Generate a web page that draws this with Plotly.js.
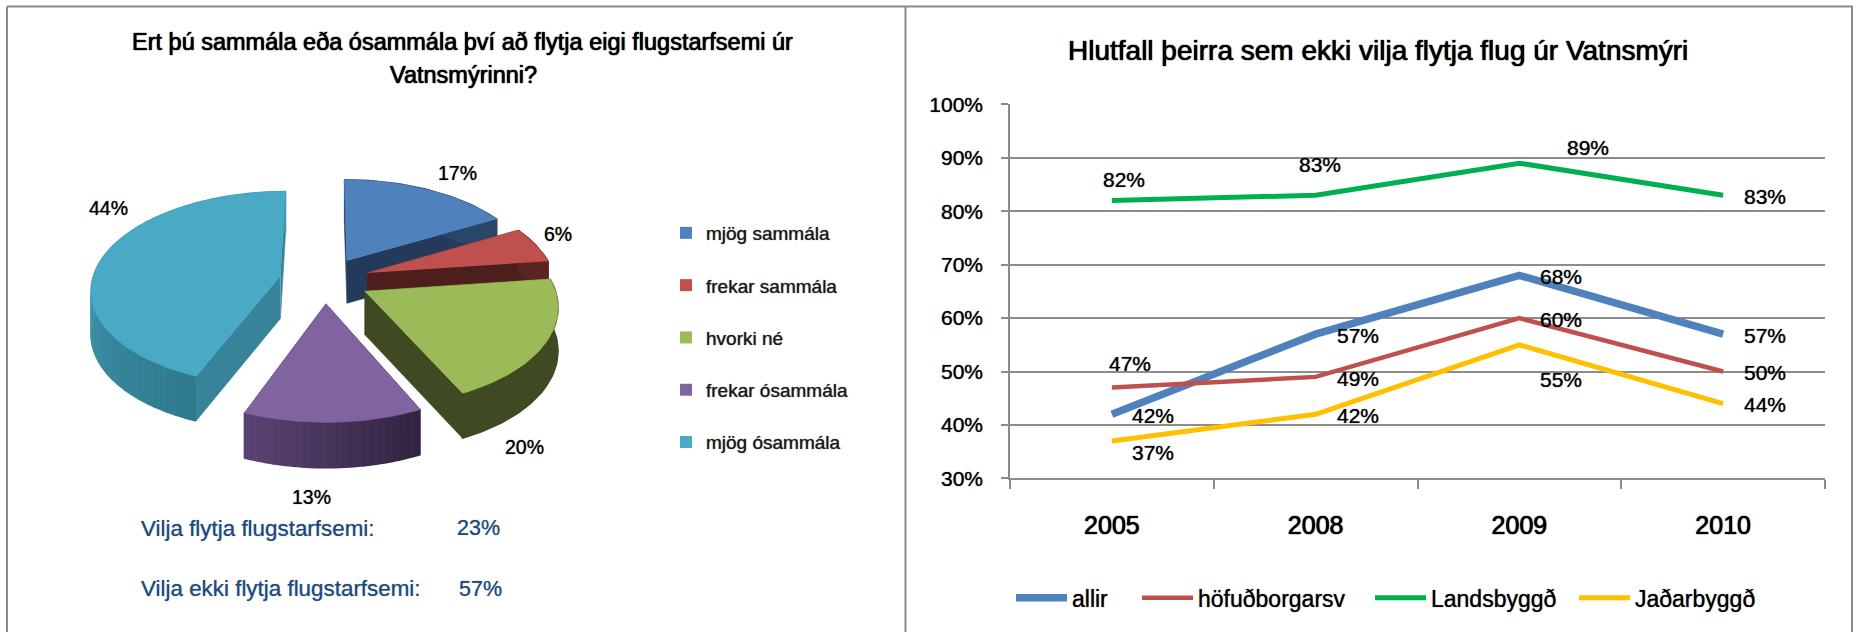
<!DOCTYPE html>
<html><head><meta charset="utf-8">
<script src="https://cdn.plot.ly/plotly-3.0.1.min.js"></script>
<style>html,body{margin:0;padding:0;background:#fff}#c{width:1853px;height:632px}</style>
</head><body><div id="c"></div>
<script>
// ---- data: left chart
const sliceNames = ['mjög sammála','frekar sammála','hvorki né','frekar ósammála','mjög ósammála'];
const sliceValues = [17,6,20,13,44];
const summaryLabels = ['Vilja flytja flugstarfsemi:','Vilja ekki flytja flugstarfsemi:'];
const summaryValues = [23,57];
// ---- data: right chart
const years = ['2005','2008','2009','2010'];
const allir = [42,57,68,57];
const hofudborgarsv = [47,49,60,50];
const landsbyggd = [82,83,89,83];
const jadarbyggd = [37,42,55,44];
const lineNames = ['allir','höfuðborgarsv','Landsbyggð','Jaðarbyggð'];
const pieTitle = ['Ert þú sammála eða ósammála því að flytja eigi flugstarfsemi úr','Vatnsmýrinni?'];
const lineTitle = 'Hlutfall þeirra sem ekki vilja flytja flug úr Vatnsmýri';

// ---- styles
const W = 1853, H = 632;
const FONT = '"Liberation Sans", Arial, sans-serif';
const SOFT = '0 0 1px rgba(0,0,0,0.8)';
const STRONG = '0 0 1px #000, 0 0 1px #000';
const topColors = ['#4F81BD','#C0504D','#9BBB59','#8064A2','#4AA9C4'];
const cutColors = ['#233A5C','#4E1E1C','#3F4A22','#3C2C52','#37849A'];
const wallStart = ['#2A4669','#5A2422','#3F4A22','#31233F','#30798D'];
const wallEnd   = ['#2A4669','#5A2422','#3F4A22','#5B4474','#3F99B1'];
const wallSteps = [2,2,2,24,48];
const wallSpan  = [1,1,1,1,0.5];
const drawOrder = [0,1,4,2,3];
const lineColors = ['#4F81BD','#C0504D','#00B050','#FFC000'];
const lineWidths = [7.5,4.5,5,5];

// pseudo-3D projection of the exploded pie (pixel-scaled hidden axes)
const cx = 324.5, cy = 280, rx = 188, ry = 96.2, persp = 0.131, depth = 43, explode = 0.24;
function project(X, Y, z){ const w = 1 - persp*Y; return [cx + rx*X/w, cy + ry*Y/w + z*depth*Math.pow(w,-0.3)]; }
function hex2rgb(h){ return [1,3,5].map(i=>parseInt(h.substr(i,2),16)); }
function mix(a,b,t){ const A=hex2rgb(a),B=hex2rgb(b); t=Math.min(1,t); return 'rgb('+A.map((v,i)=>Math.round(v+(B[i]-v)*t)).join(',')+')'; }

const traces = [];
function poly(pts,color,lw){
  traces.push({type:'scatter',mode:'lines',x:pts.map(p=>p[0]),y:pts.map(p=>p[1]),fill:'toself',fillcolor:color,
    line:{color:color,width:lw||0.6},hoverinfo:'skip',showlegend:false,xaxis:'x',yaxis:'y'});
}
const total = sliceValues.reduce((a,b)=>a+b,0);
const starts = []; sliceValues.reduce((acc,v,i)=>{starts[i]=acc;return acc+v;},0);
const toRad = v => v/total*2*Math.PI;
drawOrder.forEach(i=>{
  const a0 = toRad(starts[i]), a1 = toRad(starts[i]+sliceValues[i]), mid=(a0+a1)/2;
  const ox = explode*Math.sin(mid), oy = -explode*Math.cos(mid);
  const pt = (t,r,z)=>project(ox+r*Math.sin(t), oy-r*Math.cos(t), z);
  const arc = (from,to,z)=>{const n=Math.max(4,Math.ceil(Math.abs(to-from)/0.03)),o=[];for(let j=0;j<=n;j++)o.push(pt(from+(to-from)*j/n,1,z));return o;};
  // cut faces
  [a0,a1].forEach(t=>poly([pt(t,0,0),pt(t,1,0),pt(t,1,1),pt(t,0,1)],cutColors[i]));
  // curved outer wall, shaded in strips
  const steps = wallSteps[i];
  for(let s=0;s<steps;s++){
    const f=a0+(a1-a0)*s/steps, g=a0+(a1-a0)*(s+1)/steps;
    poly(arc(f,g,0).concat(arc(g,f,1)), mix(wallStart[i],wallEnd[i],(s+0.5)/steps/wallSpan[i]),1.5);
  }
  // top
  poly([pt(a0,0,0)].concat(arc(a0,a1,0)),topColors[i]);
});
// legend entries of the pie
sliceNames.forEach((n,i)=>traces.push({type:'scatter',mode:'markers',x:[null],y:[null],name:n,legendgroup:'g'+i,legend:'legend',
  marker:{symbol:'square',size:12,color:topColors[i]},xaxis:'x',yaxis:'y'}));

// line chart
const lineSeries=[allir,hofudborgarsv,landsbyggd,jadarbyggd];
lineSeries.forEach((vals,i)=>traces.push({type:'scatter',mode:'lines',x:years,y:vals,name:lineNames[i],
  line:{color:lineColors[i],width:lineWidths[i]},xaxis:'x2',yaxis:'y2',legend:'legend'+(i+2),hoverinfo:'skip'}));

// ---- annotations
const annotations=[];
function txt(x,y,text,size,color,xr,yr,dx,dy,anchor,shadow){annotations.push({xref:xr||'paper',yref:yr||'paper',x:x,y:y,text:text,showarrow:false,
  xanchor:anchor||'center',yanchor:'middle',xshift:dx||0,yshift:dy||0,font:{family:FONT,size:size,color:color||'#000',shadow:shadow||(color?'0 0 1px rgba(31,73,125,0.7)':SOFT)}});}
const px=x=>x/W, py=y=>1-y/H;
txt(px(462.5),py(41.5),pieTitle[0],23.5,null,null,null,0,0,null,STRONG);
txt(px(463.5),py(74.6),pieTitle[1],23.5,null,null,null,0,0,null,STRONG);
txt(px(1378),py(50.4),lineTitle,28,null,null,null,0,0,null,STRONG);
const pieLabelPos=[[457.7,173.3],[557.5,233.8],[524,446.6],[311,497],[108.6,207.6]];
sliceValues.forEach((v,i)=>txt(pieLabelPos[i][0],pieLabelPos[i][1],v+'%',19.5,null,'x','y'));
const navy='#1F497D';
txt(px(139),py(528),summaryLabels[0],22.4,navy,null,null,0,0,'left');
txt(px(478.5),py(528),summaryValues[0]+'%',21.5,navy);
txt(px(139),py(588.5),summaryLabels[1],22.4,navy,null,null,0,0,'left');
txt(px(480.5),py(588.5),summaryValues[1]+'%',21.5,navy);
// data labels, hand placed offsets as in the source chart
const labelDX=[[41.4,42.4,41.4,42.3],[17.7,42.4,41.4,42.3],[12.2,4.6,68.8,42.3],[41.4,42.4,41.4,42.3]];
const labelDY=[[-0.9,-1.7,-1.1,-1.7],[23.6,-2,-1.5,-1.3],[21.2,31.2,15.7,-1.5],[-11.2,-0.9,-34.9,-0.7]];
lineSeries.forEach((vals,s)=>vals.forEach((v,i)=>txt(i,v,v+'%',21,null,'x2','y2',labelDX[s][i],labelDY[s][i])));

// ---- frame
const grey='#8C8C8C';
const frameLine=(x0,y0,x1,y1)=>({type:'line',xref:'paper',yref:'paper',x0:px(x0),y0:py(y0),x1:px(x1),y1:py(y1),line:{color:grey,width:2}});
const shapes=[frameLine(7,6.5,1853,6.5),frameLine(7,6.5,7,632),frameLine(905.5,6.5,905.5,632),frameLine(1852,6.5,1852,632)];

// ---- legends for the line series
const legendX=[1011,1137,1370,1574];
const layout={
  width:W,height:H,margin:{l:0,r:0,t:0,b:0},paper_bgcolor:'#fff',plot_bgcolor:'rgba(0,0,0,0)',
  font:{family:FONT,color:'#000'},showlegend:true,annotations:annotations,shapes:shapes,
  xaxis:{domain:[0,905/W],range:[0,905],visible:false,fixedrange:true},
  yaxis:{domain:[0,1],range:[632,0],visible:false,fixedrange:true},
  xaxis2:{domain:[1010/W,1825/W],anchor:'y2',type:'category',categoryorder:'array',categoryarray:years,range:[-0.5,3.5],
    tickson:'boundaries',ticks:'outside',ticklen:9,tickcolor:grey,tickwidth:1.5,showline:true,linecolor:grey,linewidth:1.5,showgrid:false,
    tickfont:{family:FONT,size:25,color:'#000',shadow:STRONG},ticklabelstandoff:24,fixedrange:true},
  yaxis2:{domain:[1-478.4/H,1-104.4/H],anchor:'x2',range:[30,100],dtick:10,tick0:30,ticksuffix:'%',ticks:'outside',ticklen:7,tickcolor:grey,tickwidth:1.5,
    showline:true,linecolor:grey,linewidth:1.5,showgrid:true,gridcolor:grey,gridwidth:1.5,zeroline:false,
    tickfont:{family:FONT,size:21,color:'#000',shadow:SOFT},ticklabelstandoff:14,fixedrange:true},
  legend:{x:px(666),y:py(337.5),xanchor:'left',yanchor:'middle',orientation:'v',tracegroupgap:24.6,
    font:{family:FONT,size:19,color:'#1a1a1a',shadow:SOFT},bgcolor:'rgba(0,0,0,0)'}
};
lineNames.forEach((n,i)=>{layout['legend'+(i+2)]={x:px(legendX[i]),y:py(597.7),xanchor:'left',yanchor:'middle',itemwidth:51,
  font:{family:FONT,size:23,color:'#000',shadow:SOFT},bgcolor:'rgba(0,0,0,0)'};});
Plotly.newPlot('c',traces,layout,{displayModeBar:false,responsive:false});
</script></body></html>
